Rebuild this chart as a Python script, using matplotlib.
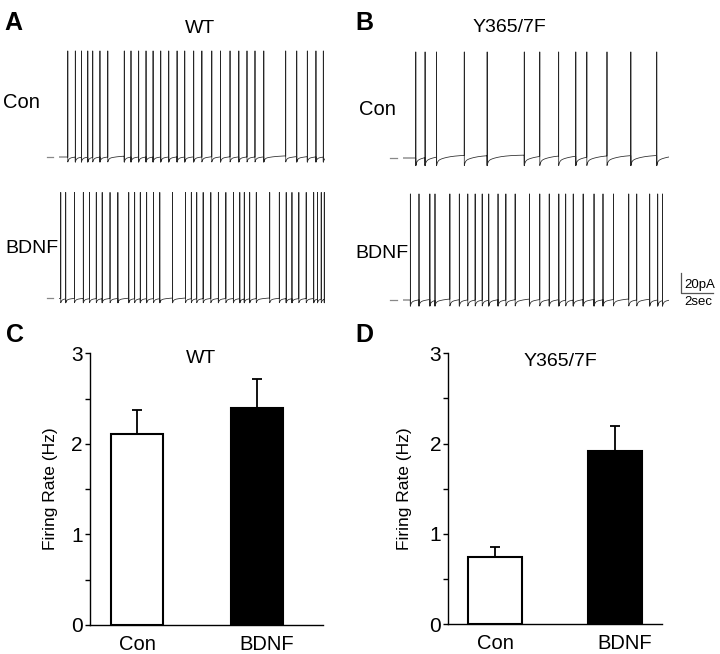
import numpy as np
import matplotlib
matplotlib.use("Agg")
import matplotlib.pyplot as plt
from matplotlib.ticker import MultipleLocator

plt.rcParams['font.family'] = ['Liberation Sans', 'DejaVu Sans']

# ------------------------------------------------------------------ data
trace_duration = 16.6          # seconds shown per recording
spike_amplitude = 103          # pA, peak above baseline

wt_con_spikes = [0.53, 1.00, 1.38, 1.78, 2.09, 2.54, 3.03, 4.06, 4.48, 4.96,
                 5.42, 5.86, 6.34, 6.84, 7.36, 7.84, 8.40, 8.91, 9.53, 10.08,
                 10.67, 11.22, 11.73, 12.23, 12.78, 14.15, 14.84, 15.50,
                 16.04, 16.50]
wt_bdnf_spikes = [0.09, 0.40, 0.95, 1.50, 1.89, 2.31, 2.68, 3.17, 3.66, 4.34,
                  4.71, 5.06, 5.46, 5.89, 6.28, 7.08, 7.89, 8.25, 8.59, 8.99,
                  9.47, 9.94, 10.41, 10.88, 11.28, 11.56, 11.90, 12.31, 13.15,
                  13.75, 14.18, 14.54, 14.97, 15.43, 15.90, 16.14, 16.37,
                  16.56]
mut_con_spikes = [0.78, 1.36, 2.08, 3.81, 5.24, 7.56, 8.53, 9.71, 10.78,
                  11.47, 12.73, 14.22, 15.84]
mut_bdnf_spikes = [0.44, 0.98, 1.66, 1.98, 2.91, 3.50, 4.03, 4.49, 4.93, 5.34,
                   5.92, 6.41, 6.99, 7.88, 8.53, 9.12, 9.72, 10.15, 10.62,
                   11.24, 11.92, 12.48, 13.13, 14.09, 14.59, 15.40, 15.90,
                   16.20]

groups = ["Con", "BDNF"]
wt_rate = [2.11, 2.40]
wt_sem = [0.265, 0.32]
mut_rate = [0.74, 1.92]
mut_sem = [0.12, 0.27]
rate_ticks = [0, 1, 2, 3]

scale_amp = 20     # pA
scale_time = 2     # sec

# ------------------------------------------------------------------ layout
W, H = 720, 654
fig = plt.figure(figsize=(W / 100, H / 100), dpi=100)
fig.patch.set_facecolor('white')

PX_PER_S = 16.0
PX_PER_UNIT = 1.03
Y_LO, Y_HI = -15, 115


def px_axes(x0, y0, x1, y1):
    return fig.add_axes([x0 / W, 1 - y1 / H, (x1 - x0) / W, (y1 - y0) / H])


def build_trace(spikes, T, ahp, ramp, dt=0.004):
    sp = np.asarray(spikes, dtype=float)
    t = np.arange(0.0, T, dt)
    idx = np.searchsorted(sp, t, side='right') - 1
    before = idx < 0
    last = sp[np.clip(idx, 0, None)]
    d = np.where(before, 1.0, t - last)
    v = -ahp * np.exp(-d / 0.06) + ramp * (1 - np.exp(-d / 0.7)) - ramp * 0.5
    v = np.where(before, 0.0, v)
    tp = sp + 0.001
    vp = np.full_like(sp, spike_amplitude, dtype=float)
    tt = np.concatenate([t, tp])
    vv = np.concatenate([v, vp])
    order = np.argsort(tt, kind='mergesort')
    return tt[order], vv[order]


def trace_axes(left_px, base_px, spikes, ahp, ramp):
    top = base_px - Y_HI * PX_PER_UNIT
    bot = base_px - Y_LO * PX_PER_UNIT
    ax = px_axes(left_px, top, left_px + trace_duration * PX_PER_S, bot)
    t, v = build_trace(spikes, trace_duration, ahp, ramp)
    ax.plot(t, v, color='#262626', lw=0.55)
    ax.plot([-0.8, -0.4], [0, 0], color='#888888', lw=0.9, clip_on=False)
    ax.set_xlim(0, trace_duration)
    ax.set_ylim(Y_LO, Y_HI)
    ax.axis('off')
    return ax


trace_axes(59.3, 157.0, wt_con_spikes, 3.5, 3.0)
trace_axes(59.3, 298.5, wt_bdnf_spikes, 3.0, 2.5)
trace_axes(403.3, 158.0, mut_con_spikes, 4.5, 6.0)
axb = trace_axes(403.3, 300.0, mut_bdnf_spikes, 4.0, 4.0)

# scale bar
sx = (680.7 - 403.3) / PX_PER_S
sy = (300.0 - 293.3) / PX_PER_UNIT
axb.plot([sx, sx, sx + scale_time], [sy + scale_amp, sy, sy],
         color='#555555', lw=0.9, clip_on=False)
axb.text(sx + 0.2, sy + 2, f"{scale_amp}pA", fontsize=9.5,
         ha='left', va='bottom', clip_on=False)
axb.text(sx + scale_time / 2 + 0.1, sy - 2.5, f"{scale_time}sec", fontsize=9.5,
         ha='center', va='top', clip_on=False)

# ------------------------------------------------------------------ text
def ftext(x, y, s, **kw):
    fig.text(x / W, 1 - y / H, s, **kw)


ftext(4, 30, "A", fontsize=18, fontweight='bold', va='baseline')
ftext(355, 30, "B", fontsize=18, fontweight='bold', va='baseline')
ftext(6, 342, "C", fontsize=18, fontweight='bold', va='baseline')
ftext(355, 342, "D", fontsize=18, fontweight='bold', va='baseline')

ftext(200, 33, "WT", fontsize=14, ha='center', va='baseline')
ftext(509, 32, "Y365/7F", fontsize=14, ha='center', va='baseline')

ftext(3.5, 108, "Con", fontsize=14.5, va='baseline')
ftext(5, 253, "BDNF", fontsize=14, va='baseline')
ftext(359, 115, "Con", fontsize=14.5, va='baseline')
ftext(355, 258, "BDNF", fontsize=14, va='baseline')


# ------------------------------------------------------------------ bars
def bar_axes(box, xlim, width, rates, sems, title, title_xy, label_x):
    ax = px_axes(*box)
    x = np.arange(len(groups))
    ax.bar(x, rates, width=width, color=['white', 'black'],
           edgecolor='black', linewidth=1.5, zorder=2)
    ax.errorbar(x, rates, yerr=[np.zeros(len(sems)), sems], fmt='none',
                ecolor='black', elinewidth=1.3, capsize=3.8, capthick=1.3,
                zorder=3)
    ax.set_xlim(*xlim)
    ax.set_ylim(rate_ticks[0], rate_ticks[-1])
    ax.set_yticks(rate_ticks)
    ax.yaxis.set_minor_locator(MultipleLocator(0.5))
    ax.set_xticks([0, 1.084])
    ax.set_xticklabels(groups, fontsize=14.5)
    ax.tick_params(axis='x', length=0, pad=7)
    ax.tick_params(axis='y', which='both', direction='out', length=3.6,
                   width=1, labelsize=15, pad=1.5)
    for s in ('top', 'right'):
        ax.spines[s].set_visible(False)
    for s in ('left', 'bottom'):
        ax.spines[s].set_linewidth(1.0)
    ax.set_ylabel("Firing Rate (Hz)", fontsize=12.5)
    ax.yaxis.set_label_coords(label_x, 0.5)
    ftext(title_xy[0], title_xy[1], title, fontsize=14, ha='center',
          va='baseline')
    return ax


bar_axes((90, 353.3, 322.7, 625), (-0.393, 1.551), 0.435,
         wt_rate, wt_sem, "WT", (201, 363), -0.137)
bar_axes((448.3, 353.3, 661.7, 624.3), (-0.39, 1.393), 0.45,
         mut_rate, mut_sem, "Y365/7F", (560, 366.5), -0.17)

fig.savefig("out.png", dpi=100, facecolor='white')
